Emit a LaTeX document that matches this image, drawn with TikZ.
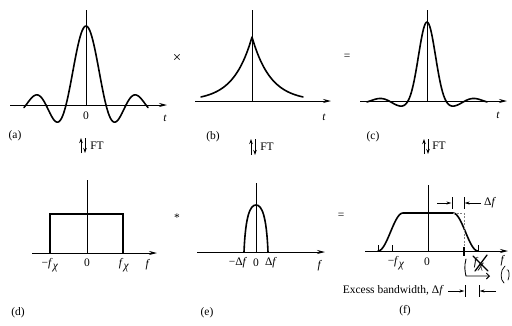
\documentclass[tikz,border=0pt]{standalone}
\usepackage{fontspec}
\setmainfont{Liberation Serif}
\usetikzlibrary{arrows.meta}
\newcommand\fchi{\textit{f}\kern0.2pt\raisebox{-0.5ex}{\textit{χ}}}
\newcommand\mfchi{−\textit{f}\kern0.2pt\raisebox{-0.5ex}{\textit{χ}}}
\begin{document}
\begin{tikzpicture}[x=1pt,y=-1pt,
  font=\fontsize{11.5}{13}\selectfont,
  ax/.style={line width=0.85pt,-{Stealth[length=8pt,width=4pt]}},
  vax/.style={line width=0.85pt},
  crv/.style={line width=1.6pt,line join=round,line cap=round},
  lbl/.style={inner sep=0pt},
  ftarr/.style={line width=0.9pt,-{Stealth[length=5pt,width=3.5pt]}},
  dimarr/.style={line width=0.7pt,-{Stealth[length=5pt,width=3pt]}},
  bar/.style={line width=0.7pt},
  tick/.style={line width=0.7pt},
  hand/.style={line width=0.9pt,line cap=round,line join=round}]
\useasboundingbox (0,0) rectangle (512,325);

% ---------- (a) ----------
\coordinate (aL) at (10,105); \coordinate (aR) at (167,105);
\coordinate (aO) at (86,105); \coordinate (aT) at (86,10);
\draw[ax] (aL) -- (aR);
\draw[vax] (aO) -- (aT);
\draw[crv] plot[domain=-62:62,samples=120] ({86+\x},{105-79*sin(9*\x)/(pi*\x/20)});
\node[lbl] (a0) at (86,116) {0};
\node[lbl] (at) at (165,118) {\textit{t}};
\node[lbl] (alab) at (15,136) {(a)};
\coordinate (fa1) at (81,153); \coordinate (fa2) at (81,138);
\coordinate (fa3) at (85,138); \coordinate (fa4) at (85,153);
\draw[ftarr] (fa1) -- (fa2);
\draw[ftarr] (fa3) -- (fa4);
\node[lbl] (aft) at (97,146) {FT};

% ---------- (b) ----------
\coordinate (bL) at (195,101); \coordinate (bR) at (331,101);
\coordinate (bO) at (252,101); \coordinate (bT) at (252,10);
\draw[ax] (bL) -- (bR);
\draw[vax] (bO) -- (bT);
\draw[crv] plot[domain=-51:0,samples=40] ({252+\x},{101-64*exp(\x/18.5)})
  -- plot[domain=0:51,samples=40] ({252+\x},{101-64*exp(-\x/18.5)});
\node[lbl] (bt) at (324,117) {\textit{t}};
\node[lbl] (blab) at (213,137) {(b)};
\coordinate (fb1) at (251,155); \coordinate (fb2) at (251,139);
\coordinate (fb3) at (255,139); \coordinate (fb4) at (255,155);
\draw[ftarr] (fb1) -- (fb2);
\draw[ftarr] (fb3) -- (fb4);
\node[lbl] (bft) at (267,147) {FT};

% ---------- (c) ----------
\coordinate (cL) at (360,101); \coordinate (cR) at (507,101);
\coordinate (cO) at (427,101); \coordinate (cT) at (427,10);
\draw[ax] (cL) -- (cR);
\draw[vax] (cO) -- (cT);
\draw[crv] plot[domain=-60:60,samples=120]
  ({427+\x},{101-79*sin(9.4737*\x)/(pi*\x/19)*(0.25+0.75*exp(-\x*\x/256))});
\node[lbl] (ct) at (498,115) {\textit{t}};
\node[lbl] (clab) at (373,137) {(c)};
\coordinate (fc1) at (424,154); \coordinate (fc2) at (424,139);
\coordinate (fc3) at (428,139); \coordinate (fc4) at (428,154);
\draw[ftarr] (fc1) -- (fc2);
\draw[ftarr] (fc3) -- (fc4);
\node[lbl] (cft) at (439,146) {FT};

% operators top
\node[lbl,font=\fontsize{15}{16}\selectfont] (times) at (177,58) {×};
\node[lbl] (eq1) at (347,57) {=};

% ---------- (d) ----------
\coordinate (dL) at (32,253); \coordinate (dR) at (157,253);
\coordinate (dO) at (87,253); \coordinate (dT) at (87,180);
\draw[ax] (dL) -- (dR);
\draw[vax] (dO) -- (dT);
\coordinate (d1) at (50,253); \coordinate (d2) at (50,214);
\coordinate (d3) at (123,214); \coordinate (d4) at (123,253);
\draw[line width=1.3pt,line join=miter] (d1) -- (d2) -- (d3) -- (d4);
\node[lbl] (dm) at (50,265) {\mfchi};
\node[lbl] (d0) at (87,263) {0};
\node[lbl] (dp) at (124,265) {\fchi};
\node[lbl] (df) at (148,265) {\textit{f}};
\node[lbl] (dlab) at (18,313) {(d)};

\node[lbl] (star) at (177,218) {*};

% ---------- (e) ----------
\coordinate (eL) at (197,252); \coordinate (eR) at (325,252);
\coordinate (eO) at (256,252); \coordinate (eT) at (256,183);
\draw[ax] (eL) -- (eR);
\draw[vax] (eO) -- (eT);
\coordinate (e1) at (244,252); \coordinate (e2) at (256,205); \coordinate (e3) at (268,252);
\draw[crv] (e1) .. controls (245.5,216) and (250,205) .. (e2)
  .. controls (262,205) and (266.5,216) .. (e3);
\node[lbl] (em) at (238,263) {−Δ\textit{f}};
\node[lbl] (e0) at (256,263) {0};
\node[lbl] (ep) at (271,263) {Δ\textit{f}};
\node[lbl] (ef) at (320,266) {\textit{f}};
\node[lbl] (elab) at (207,313) {(e)};

\node[lbl] (eq2) at (341,216) {=};

% ---------- (f) ----------
\coordinate (fL) at (365,251); \coordinate (fR) at (508,251);
\coordinate (fO) at (428,251); \coordinate (fT) at (428,185);
\draw[ax] (fL) -- (fR);
\draw[vax] (fO) -- (fT);
\draw[crv] plot[domain=378:403,samples=30] (\x,{251-38*(1-cos(180*(\x-378)/25))/2})
  -- (453,213)
  -- plot[domain=453:478,samples=30] (\x,{213+38*(1-cos(180*(\x-453)/25))/2});
\coordinate (fc) at (453,213); \coordinate (fd) at (464,213); \coordinate (fe) at (464,251);
\draw[line width=0.5pt,dash pattern=on 2pt off 1.5pt,gray] (fc) -- (fd) -- (fe);
\draw[tick] (378,251) -- (378,245);
\draw[tick] (392,251) -- (392,245);
\draw[tick] (478,251) -- (478,245);
\draw[line width=1.4pt] (464,247) -- (464,256);
\node[lbl] (fm) at (396,263) {\mfchi};
\node[lbl] (f0) at (427,262) {0};
% top dimension
\coordinate (tb1a) at (452,197); \coordinate (tb1b) at (452,209);
\coordinate (tb2a) at (464,197); \coordinate (tb2b) at (464,209);
\coordinate (ta1) at (437,203); \coordinate (ta2) at (451.4,203);
\coordinate (ta3) at (481,203); \coordinate (ta4) at (464.6,203);
\draw[bar] (tb1a) -- (tb1b);
\draw[bar] (tb2a) -- (tb2b);
\draw[dimarr] (ta1) -- (ta2);
\draw[dimarr] (ta3) -- (ta4);
\node[lbl,anchor=west] (tdf) at (484,203) {Δ\textit{f}};
% bottom dimension
\node[lbl,anchor=east] (exc) at (444,291) {Excess bandwidth, Δ\textit{f}};
\coordinate (bb1a) at (465,285); \coordinate (bb1b) at (465,297);
\coordinate (bb2a) at (479,285); \coordinate (bb2b) at (479,297);
\coordinate (ba1) at (448,291); \coordinate (ba2) at (464.4,291);
\coordinate (ba3) at (496,291); \coordinate (ba4) at (479.6,291);
\draw[bar] (bb1a) -- (bb1b);
\draw[bar] (bb2a) -- (bb2b);
\draw[dimarr] (ba1) -- (ba2);
\draw[dimarr] (ba3) -- (ba4);
% handwritten marks
\node[lbl] (fxx) at (479,264) {\fchi};
\coordinate (x1) at (473,256); \coordinate (x2) at (488,271);
\coordinate (x3) at (475,271); \coordinate (x4) at (487,255);
\draw[hand,line width=1.3pt] (x1) -- (x2);
\draw[hand,line width=1.3pt] (x3) -- (x4);
\coordinate (h1) at (466,259); \coordinate (h2) at (466,276); \coordinate (h3) at (490,276);
\draw[hand,-{Straight Barb[length=3pt]}] (h1) .. controls (464,266) and (465,272) .. (h2) -- (h3);
\node[lbl] (ff) at (503,261) {\textit{f}};
\draw[hand,line width=0.7pt] (505,266) .. controls (500,270) and (500,280) .. (504,283);
\draw[hand,line width=0.7pt] (507,270) .. controls (509,268) and (510,276) .. (508,280);
\node[lbl] (flab) at (405,311) {(f)};
\end{tikzpicture}
\end{document}
